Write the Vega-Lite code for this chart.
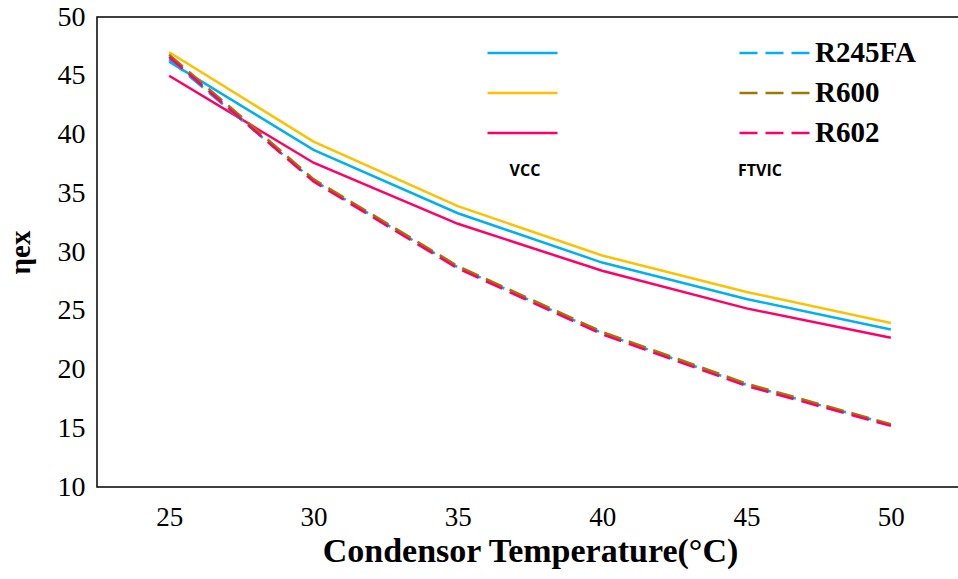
{
  "$schema": "https://vega.github.io/schema/vega-lite/v6.json",
  "autosize": "none",
  "width": 866,
  "height": 470,
  "padding": {"left": 97, "top": 17, "right": 0, "bottom": 92},
  "background": "white",
  "config": {
    "view": {"stroke": "#000", "strokeWidth": 1.5},
    "axis": {"domain": false, "ticks": false, "grid": false, "labelColor": "#000", "titleColor": "#000", "labelFont": "Liberation Serif", "titleFont": "Liberation Serif"},
    "legend": {"symbolType": "stroke", "symbolSize": 4900, "symbolStrokeWidth": 2.5, "clipHeight": 28, "rowPadding": 11, "labelFont": "Liberation Serif", "labelFontWeight": "bold", "labelFontSize": 29, "labelColor": "#000", "labelOffset": 4, "titleFont": "Open Sans", "titleFontWeight": "bold", "titleFontSize": 16, "titleColor": "#000", "titleOrient": "bottom", "titlePadding": 15}
  },
  "data": {"values": [
    {"T": 25, "eta": 46.2, "cycle": "VCC", "fluid": "R245FA"},
    {"T": 30, "eta": 38.7, "cycle": "VCC", "fluid": "R245FA"},
    {"T": 35, "eta": 33.3, "cycle": "VCC", "fluid": "R245FA"},
    {"T": 40, "eta": 29.1, "cycle": "VCC", "fluid": "R245FA"},
    {"T": 45, "eta": 26.0, "cycle": "VCC", "fluid": "R245FA"},
    {"T": 50, "eta": 23.4, "cycle": "VCC", "fluid": "R245FA"},
    {"T": 25, "eta": 47.0, "cycle": "VCC", "fluid": "R600"},
    {"T": 30, "eta": 39.4, "cycle": "VCC", "fluid": "R600"},
    {"T": 35, "eta": 33.9, "cycle": "VCC", "fluid": "R600"},
    {"T": 40, "eta": 29.7, "cycle": "VCC", "fluid": "R600"},
    {"T": 45, "eta": 26.6, "cycle": "VCC", "fluid": "R600"},
    {"T": 50, "eta": 23.95, "cycle": "VCC", "fluid": "R600"},
    {"T": 25, "eta": 45.0, "cycle": "VCC", "fluid": "R602"},
    {"T": 30, "eta": 37.6, "cycle": "VCC", "fluid": "R602"},
    {"T": 35, "eta": 32.4, "cycle": "VCC", "fluid": "R602"},
    {"T": 40, "eta": 28.4, "cycle": "VCC", "fluid": "R602"},
    {"T": 45, "eta": 25.2, "cycle": "VCC", "fluid": "R602"},
    {"T": 50, "eta": 22.7, "cycle": "VCC", "fluid": "R602"},
    {"T": 25, "eta": 46.4, "cycle": "FTVIC", "fluid": "R245FA"},
    {"T": 30, "eta": 36.1, "cycle": "FTVIC", "fluid": "R245FA"},
    {"T": 35, "eta": 28.7, "cycle": "FTVIC", "fluid": "R245FA"},
    {"T": 40, "eta": 23.1, "cycle": "FTVIC", "fluid": "R245FA"},
    {"T": 45, "eta": 18.7, "cycle": "FTVIC", "fluid": "R245FA"},
    {"T": 50, "eta": 15.3, "cycle": "FTVIC", "fluid": "R245FA"},
    {"T": 25, "eta": 46.8, "cycle": "FTVIC", "fluid": "R600"},
    {"T": 30, "eta": 36.2, "cycle": "FTVIC", "fluid": "R600"},
    {"T": 35, "eta": 28.8, "cycle": "FTVIC", "fluid": "R600"},
    {"T": 40, "eta": 23.2, "cycle": "FTVIC", "fluid": "R600"},
    {"T": 45, "eta": 18.8, "cycle": "FTVIC", "fluid": "R600"},
    {"T": 50, "eta": 15.35, "cycle": "FTVIC", "fluid": "R600"},
    {"T": 25, "eta": 46.6, "cycle": "FTVIC", "fluid": "R602"},
    {"T": 30, "eta": 36.0, "cycle": "FTVIC", "fluid": "R602"},
    {"T": 35, "eta": 28.6, "cycle": "FTVIC", "fluid": "R602"},
    {"T": 40, "eta": 23.0, "cycle": "FTVIC", "fluid": "R602"},
    {"T": 45, "eta": 18.6, "cycle": "FTVIC", "fluid": "R602"},
    {"T": 50, "eta": 15.2, "cycle": "FTVIC", "fluid": "R602"}
  ]},
  "encoding": {
    "x": {"field": "T", "type": "ordinal", "scale": {"type": "point", "padding": 0.5},
      "axis": {"labelAngle": 0, "labelFont": "Liberation Serif", "labelFontSize": 27, "labelPadding": 17, "title": "Condensor Temperature(°C)", "titleFont": "Liberation Serif", "titleFontSize": 34, "titleFontWeight": "bold", "titlePadding": 4}},
    "y": {"field": "eta", "type": "quantitative", "scale": {"domain": [10, 50], "nice": false, "zero": false},
      "axis": {"values": [10, 15, 20, 25, 30, 35, 40, 45, 50], "labelFont": "Liberation Serif", "labelFontSize": 28, "labelPadding": 12, "title": "ηex", "titleFont": "Liberation Serif", "titleFontSize": 29, "titleFontWeight": "bold", "titlePadding": 22}}
  },
  "layer": [
    {
      "transform": [{"filter": "datum.cycle === 'VCC'"}],
      "mark": {"type": "line", "strokeWidth": 2.5},
      "encoding": {
        "color": {"field": "fluid", "type": "nominal",
          "scale": {"domain": ["R245FA", "R600", "R602"], "range": ["#00B0F0", "#FFC000", "#FF0066"]},
          "legend": {"title": "VCC", "orient": "none", "legendX": 389, "legendY": 22, "labelExpr": "''", "titleAnchor": "middle"}}
      }
    },
    {
      "transform": [{"filter": "datum.cycle === 'FTVIC'"}],
      "mark": {"type": "line", "strokeWidth": 2.5, "strokeDash": [18, 8]},
      "encoding": {
        "color": {"field": "fluid", "type": "nominal",
          "scale": {"domain": ["R245FA", "R600", "R602"], "range": ["#00B0F0", "#9C7A00", "#FF0066"]},
          "legend": {"title": "FTVIC", "orient": "none", "legendX": 641, "legendY": 22, "symbolDash": [18, 8], "titleAnchor": "start"}}
      }
    }
  ],
  "resolve": {"scale": {"color": "independent"}, "legend": {"color": "independent"}}
}
